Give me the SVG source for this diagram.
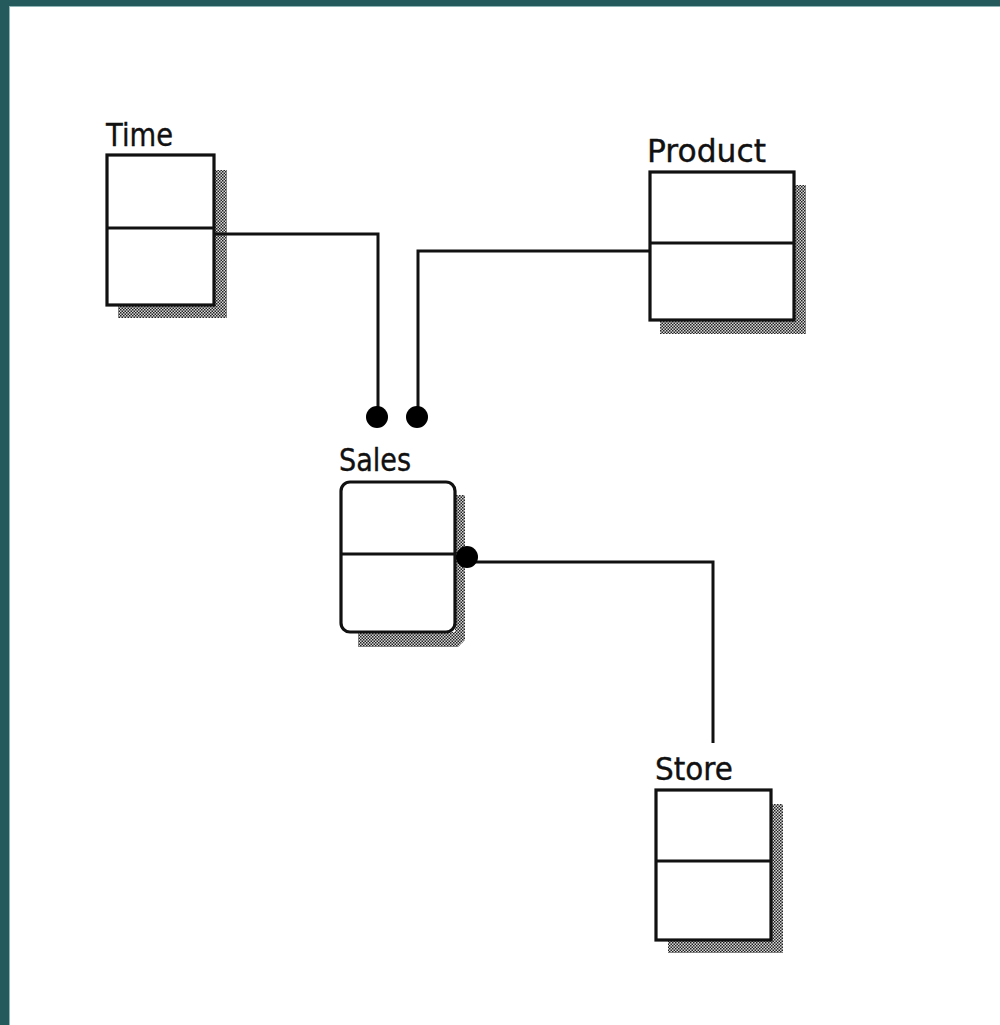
<svg xmlns="http://www.w3.org/2000/svg" width="1000" height="1025" viewBox="0 0 1000 1025">
<defs>
<pattern id="chk" width="3" height="3" patternUnits="userSpaceOnUse">
<rect width="3" height="3" fill="#d8d8d8"/>
<rect width="1.5" height="1.5" fill="#222"/>
<rect x="1.5" y="1.5" width="1.5" height="1.5" fill="#222"/>
</pattern>
</defs>
<style>
.box{fill:#fff;stroke:#111;stroke-width:3.2}
.div{stroke:#111;stroke-width:3.2}
.shadow{fill:url(#chk)}
.lbl{font-family:"DejaVu Sans","Liberation Sans",sans-serif;font-size:32px;fill:#111;stroke:#111;stroke-width:0.4}
.conn{fill:none;stroke:#111;stroke-width:3}
.dot{fill:#000}
</style>
<rect width="1000" height="1025" fill="#ffffff"/>
<rect x="0" y="0" width="1000" height="6" fill="#245a5c"/>
<rect x="0" y="0" width="9" height="1025" fill="#245a5c"/>
<rect x="9" y="6" width="1" height="1019" fill="#8fb5b6"/>
<rect x="9" y="6" width="991" height="1" fill="#8fb5b6"/>

<g id="time">
<path class="shadow" d="M214,170 H227 V318 H118 V305 H214 Z"/>
<rect class="box" x="107" y="155" width="107" height="150"/>
<line class="div" x1="107" y1="228" x2="214" y2="228"/>
<text class="lbl" x="106" y="146" textLength="67" lengthAdjust="spacingAndGlyphs">Time</text>
</g>

<g id="product">
<path class="shadow" d="M794,185 H806 V334 H660 V320 H794 Z"/>
<rect class="box" x="650" y="172" width="144" height="148"/>
<line class="div" x1="650" y1="243" x2="794" y2="243"/>
<text class="lbl" x="647" y="162" textLength="119" lengthAdjust="spacingAndGlyphs">Product</text>
</g>

<g id="sales">
<path class="shadow" d="M455,495 H465 V640 L458,647 H358 V632 H455 Z"/>
<rect class="box" x="341" y="482" width="114" height="150" rx="9" ry="9"/>
<line class="div" x1="341" y1="554" x2="455" y2="554"/>
<text class="lbl" x="339" y="471" textLength="72" lengthAdjust="spacingAndGlyphs">Sales</text>
</g>

<g id="store">
<path class="shadow" d="M771,804 H783 V953 H668 V940 H771 Z"/>
<rect class="box" x="656" y="790" width="115" height="150"/>
<line class="div" x1="656" y1="861" x2="771" y2="861"/>
<text class="lbl" x="655" y="780" textLength="78" lengthAdjust="spacingAndGlyphs">Store</text>
</g>

<g id="connectors">
<polyline class="conn" points="214,234 378,234 378,417"/>
<polyline class="conn" points="650,251 418,251 418,417"/>
<polyline class="conn" points="466,562 713,562 713,743"/>
<circle class="dot" cx="377" cy="417" r="11"/>
<circle class="dot" cx="417" cy="417" r="11"/>
<circle class="dot" cx="467" cy="557" r="11"/>
</g>
</svg>
